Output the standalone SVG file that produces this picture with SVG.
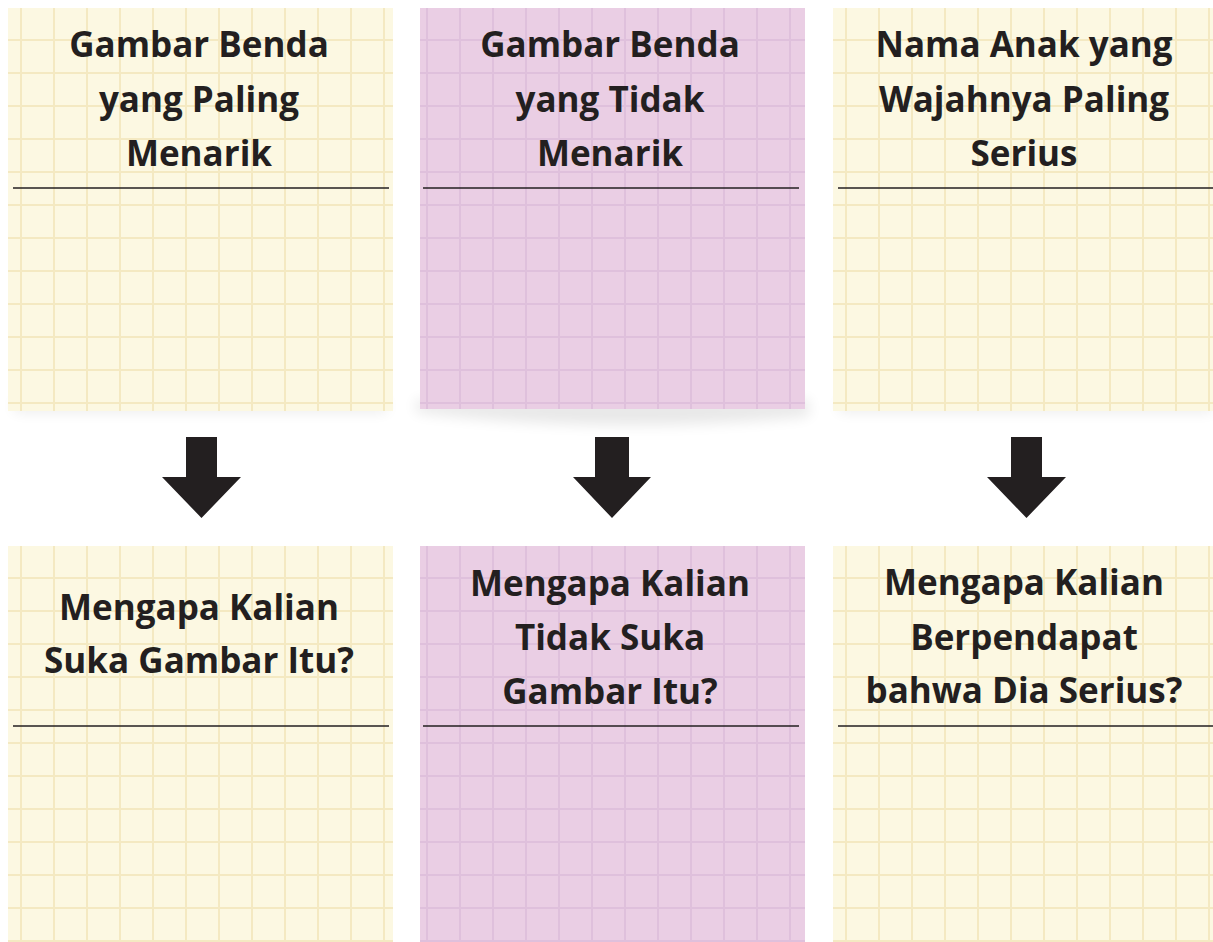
<svg xmlns="http://www.w3.org/2000/svg" width="1213" height="942" viewBox="0 0 1213 942">
  <style>
    .title { font-family: "Open Sans", "Liberation Sans", sans-serif; font-weight: 700; font-size: 35px; fill: #231F20; text-anchor: middle; }
    .rule { stroke: #231F20; stroke-width: 1.6; }
    .arrow { fill: #231F20; }
  </style>
  <defs>
    <pattern id="gridY" patternUnits="userSpaceOnUse" x="12" y="31" width="33" height="33">
      <rect width="33" height="33" fill="#FCF8E2"/>
      <rect x="0" y="0" width="2" height="33" fill="#F4E9C2"/>
      <rect x="0" y="0" width="33" height="2" fill="#F4E9C2"/>
    </pattern>
    <pattern id="gridP" patternUnits="userSpaceOnUse" x="6" y="31" width="33" height="33">
      <rect width="33" height="33" fill="#EACEE4"/>
      <rect x="0" y="0" width="2" height="33" fill="#DFC0DC"/>
      <rect x="0" y="0" width="33" height="2" fill="#DFC0DC"/>
    </pattern>
    <filter id="blur" x="-20%" y="-100%" width="140%" height="300%">
      <feGaussianBlur stdDeviation="7"/>
    </filter>
  </defs>

  <g id="top1" transform="translate(8,8)">
    <rect x="6" y="392" width="373" height="12" fill="#000" opacity="0.08" filter="url(#blur)"/>
    <rect x="0" y="0" width="385" height="403" fill="url(#gridY)"/>
    <text class="title" x="191" y="49">Gambar Benda</text>
    <text class="title" x="191" y="103.5">yang Paling</text>
    <text class="title" x="191" y="158">Menarik</text>
    <line class="rule" x1="5" y1="180" x2="381" y2="180"/>
  </g>

  <g id="top2" transform="translate(420,8)">
    <path d="M -4 392 L 389 392 L 389 408 Q 190 428 -4 404 Z" fill="#000" opacity="0.09" filter="url(#blur)"/>
    <rect x="0" y="0" width="385" height="401" fill="url(#gridP)"/>
    <text class="title" x="190" y="49">Gambar Benda</text>
    <text class="title" x="190" y="103.5">yang Tidak</text>
    <text class="title" x="190" y="158">Menarik</text>
    <line class="rule" x1="3" y1="180" x2="379" y2="180"/>
  </g>

  <g id="top3" transform="translate(833,8)">
    <rect x="6" y="392" width="374" height="12" fill="#000" opacity="0.08" filter="url(#blur)"/>
    <rect x="0" y="0" width="380" height="403" fill="url(#gridY)"/>
    <text class="title" x="191" y="49">Nama Anak yang</text>
    <text class="title" x="191" y="103.5">Wajahnya Paling</text>
    <text class="title" x="191" y="158">Serius</text>
    <line class="rule" x1="5" y1="180" x2="380" y2="180"/>
  </g>

  <g id="bot1" transform="translate(8,546)">
    <rect x="0" y="0" width="385" height="396" fill="url(#gridY)"/>
    <text class="title" x="191" y="74">Mengapa Kalian</text>
    <text class="title" x="191" y="127">Suka Gambar Itu?</text>
    <line class="rule" x1="5" y1="180" x2="381" y2="180"/>
  </g>

  <g id="bot2" transform="translate(420,546)">
    <rect x="0" y="0" width="385" height="396" fill="url(#gridP)"/>
    <text class="title" x="190" y="50">Mengapa Kalian</text>
    <text class="title" x="190" y="104">Tidak Suka</text>
    <text class="title" x="190" y="158">Gambar Itu?</text>
    <line class="rule" x1="3" y1="180" x2="379" y2="180"/>
  </g>

  <g id="bot3" transform="translate(833,546)">
    <rect x="0" y="0" width="380" height="396" fill="url(#gridY)"/>
    <text class="title" x="191" y="49">Mengapa Kalian</text>
    <text class="title" x="191" y="104">Berpendapat</text>
    <text class="title" x="191" y="157">bahwa Dia Serius?</text>
    <line class="rule" x1="5" y1="180" x2="380" y2="180"/>
  </g>

  <g id="connectors">
    <polygon class="arrow" points="186,437 217,437 217,477 241,477 201.5,518 162,477 186,477"/>
    <polygon class="arrow" points="595,437 629,437 629,477 651,477 612,518 573,477 595,477"/>
    <polygon class="arrow" points="1011,437 1042,437 1042,477 1066,477 1026.5,518 987,477 1011,477"/>
  </g>
</svg>
